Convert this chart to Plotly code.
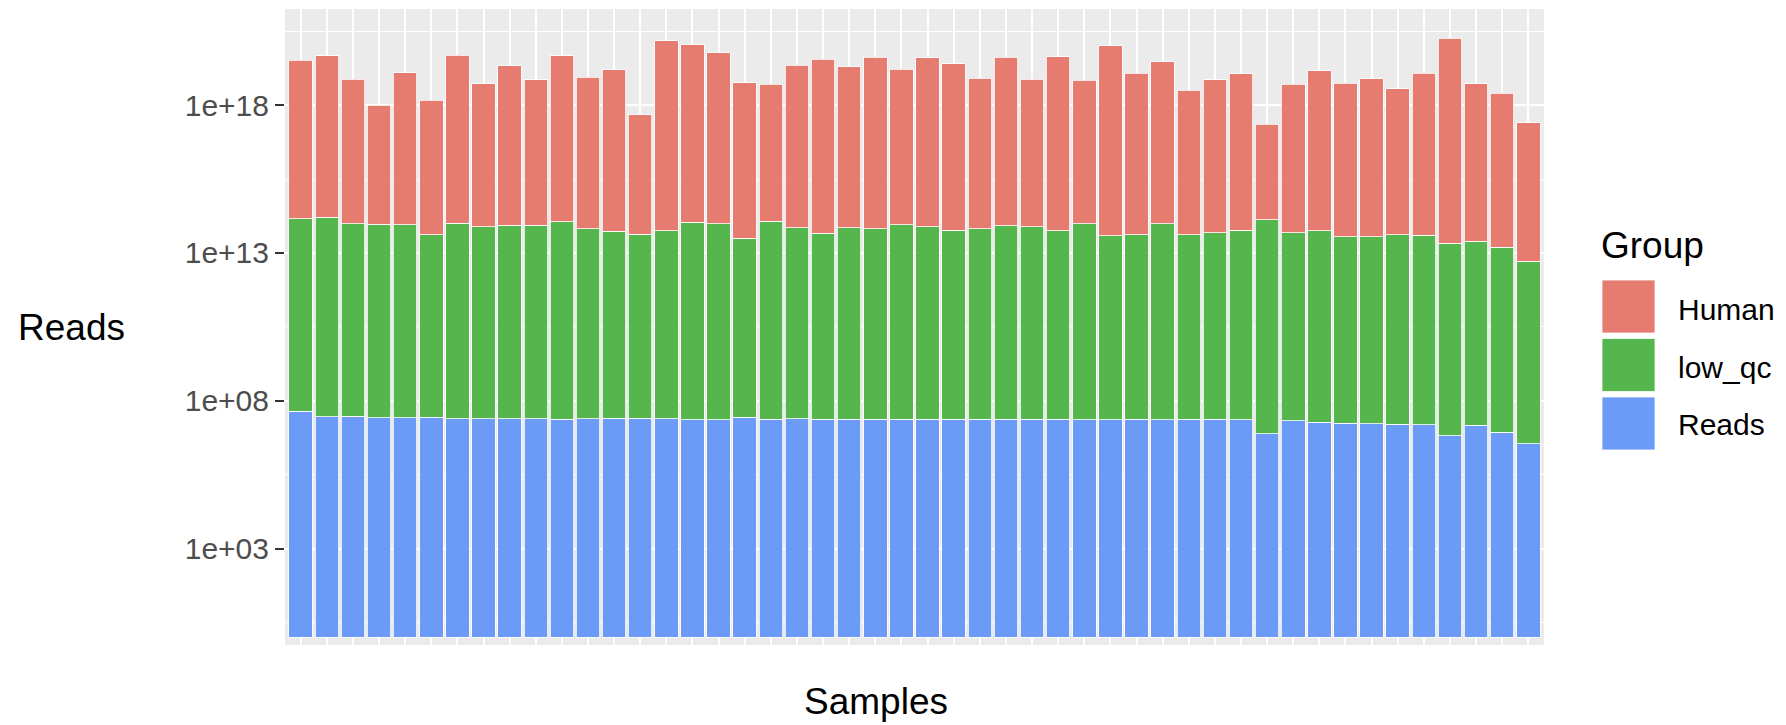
import plotly.graph_objects as go

# ---- data (segment heights on the log10 scale, as stacked by ggplot) ----
samples = [f"S{i:02d}" for i in range(1, 49)]
reads_log10 = [7.64, 7.46, 7.47, 7.42, 7.42, 7.45, 7.40, 7.40, 7.40, 7.40,
               7.38, 7.40, 7.41, 7.41, 7.39, 7.36, 7.36, 7.44, 7.38, 7.39,
               7.38, 7.38, 7.38, 7.38, 7.38, 7.38, 7.38, 7.38, 7.38, 7.38,
               7.36, 7.36, 7.38, 7.36, 7.38, 7.38, 7.35, 6.88, 7.32, 7.27,
               7.24, 7.22, 7.21, 7.19, 6.82, 7.18, 6.94, 6.54]
low_qc_log10 = [6.52, 6.74, 6.52, 6.55, 6.53, 6.17, 6.61, 6.49, 6.54, 6.53,
                6.67, 6.41, 6.32, 6.22, 6.36, 6.68, 6.62, 6.05, 6.70, 6.46,
                6.29, 6.48, 6.43, 6.58, 6.51, 6.38, 6.43, 6.54, 6.51, 6.37,
                6.62, 6.22, 6.24, 6.62, 6.24, 6.31, 6.41, 7.25, 6.36, 6.48,
                6.30, 6.32, 6.41, 6.40, 6.51, 6.22, 6.26, 6.18]
human_log10 = [5.36, 5.47, 4.88, 4.03, 5.14, 4.55, 5.68, 4.84, 5.39, 4.92,
               5.62, 5.14, 5.47, 4.05, 6.42, 6.00, 5.79, 5.27, 4.62, 5.50,
               5.88, 5.44, 5.81, 5.25, 5.71, 5.64, 5.09, 5.70, 4.98, 5.89,
               4.86, 6.42, 5.46, 5.49, 4.88, 5.16, 5.30, 3.23, 5.03, 5.41,
               5.20, 5.35, 4.94, 5.49, 6.93, 5.33, 5.20, 4.68]
groups = ["Human", "low_qc", "Reads"]
y_tickvals = [3, 8, 13, 18]
y_ticktext = ["1e+03", "1e+08", "1e+13", "1e+18"]
y_minor = [0.5, 5.5, 10.5, 15.5, 20.5]

# ---- style ----
colors = {"Human": "#E67C70", "low_qc": "#54B64C", "Reads": "#6C9AF7"}
FONT = "Liberation Sans, Arial, Helvetica, sans-serif"
OFF = 8                      # page body margin offset
W, H = 1786, 725             # window size
L, R, T, B = 285, 1544, 9, 645  # panel box in window pixels


def px(x):
    return (x - L) / (R - L)


def py(y):
    return (B - y) / (B - T)


fig = go.Figure()
series = {"Reads": reads_log10, "low_qc": low_qc_log10, "Human": human_log10}
for name in ["Reads", "low_qc", "Human"]:
    fig.add_trace(go.Bar(
        x=samples, y=series[name], name=name,
        marker=dict(color=colors[name], line=dict(color="white", width=0.8)),
        showlegend=False,
    ))

fig.update_layout(
    width=W - OFF, height=H - OFF,
    margin=dict(l=L - OFF, r=W - R, t=T - OFF, b=H - B),
    barmode="stack", bargap=0.1,
    plot_bgcolor="#EBEBEB", paper_bgcolor="white",
    font=dict(family=FONT, size=30, color="#4D4D4D"),
)
fig.update_xaxes(
    range=[-0.6, len(samples) - 0.4],
    showticklabels=False, ticks="",
    showgrid=True, gridcolor="white", gridwidth=2.2,
    zeroline=False, showline=False,
)
fig.update_yaxes(
    range=[-0.26, 21.25],
    tickvals=y_tickvals, ticktext=y_ticktext,
    ticks="outside", ticklen=9, tickwidth=1.6, tickcolor="#333333",
    tickfont=dict(size=30, color="#4D4D4D", family=FONT),
    ticklabelstandoff=0,
    showgrid=True, gridcolor="white", gridwidth=2.4,
    minor=dict(tickvals=y_minor, showgrid=True, gridcolor="white", gridwidth=1.2, ticks=""),
    zeroline=False, showline=False,
)

ann = []
# axis titles
ann.append(dict(text="Reads", xref="paper", yref="paper", x=px(16), y=py(327.5),
                xanchor="left", yanchor="middle", showarrow=False,
                font=dict(size=37, color="black", family=FONT)))
ann.append(dict(text="Samples", xref="paper", yref="paper", x=px(876), y=py(701),
                xanchor="center", yanchor="middle", showarrow=False, borderpad=0,
                font=dict(size=37, color="black", family=FONT)))
# legend
ann.append(dict(text="Group", xref="paper", yref="paper", x=px(1599), y=py(246),
                xanchor="left", yanchor="middle", showarrow=False,
                font=dict(size=37, color="black", family=FONT)))
key_tops = [280, 338.5, 397]
label_y = [309, 367, 424]
shapes = []
for g, top, ly in zip(groups, key_tops, label_y):
    shapes.append(dict(type="rect", xref="paper", yref="paper",
                       x0=px(1602), x1=px(1655), y0=py(top + 53), y1=py(top),
                       fillcolor=colors[g], line=dict(color="white", width=0.8)))
    ann.append(dict(text=g, xref="paper", yref="paper", x=px(1676), y=py(ly),
                    xanchor="left", yanchor="middle", showarrow=False,
                    font=dict(size=30, color="black", family=FONT)))

fig.update_layout(annotations=ann, shapes=shapes)
fig.write_html("out.html")
